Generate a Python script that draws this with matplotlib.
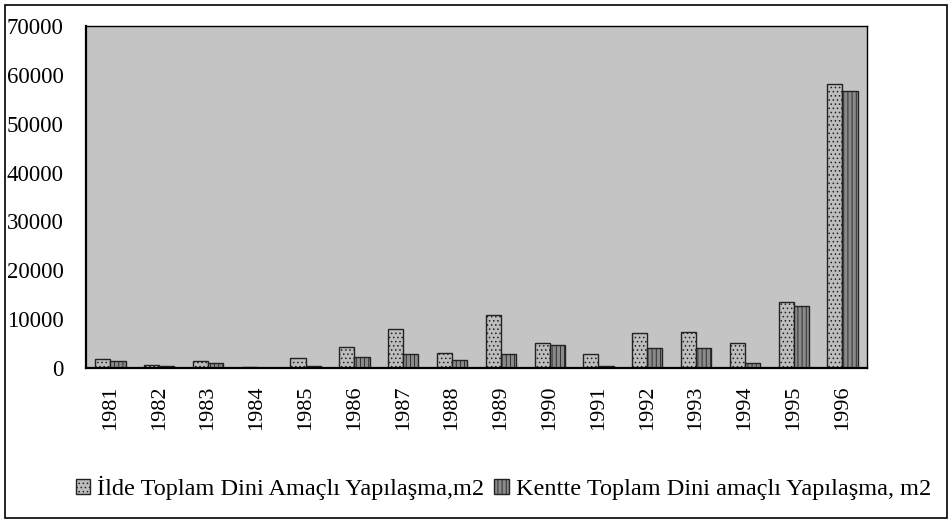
import matplotlib
matplotlib.use("Agg")
import matplotlib.pyplot as plt
import numpy as np
from matplotlib.patches import Rectangle

years = ["1981", "1982", "1983", "1984", "1985", "1986", "1987", "1988",
         "1989", "1990", "1991", "1992", "1993", "1994", "1995", "1996"]
ilde = [1800, 500, 1300, 100, 2000, 4300, 8000, 3100,
        10800, 5100, 2900, 7200, 7400, 5100, 13500, 58100]
kentte = [1400, 300, 900, 50, 400, 2200, 2900, 1700,
          2900, 4700, 300, 4100, 4100, 1000, 12700, 56700]
yticks = [0, 10000, 20000, 30000, 40000, 50000, 60000, 70000]
label_ilde = "İlde Toplam Dini Amaçlı Yapılaşma,m2"
label_kentte = "Kentte Toplam Dini amaçlı Yapılaşma, m2"

plt.rcParams['font.family'] = ['Liberation Serif', 'DejaVu Serif']
plt.rcParams['hatch.linewidth'] = 0.6

fig = plt.figure(figsize=(9.5, 5.21), dpi=100)
ax = fig.add_axes([0.0905, 0.294, 0.822, 0.656])

x = np.arange(len(years))
w = 0.31
ax.bar(x - w / 2, ilde, width=w, facecolor="#bdbdbd", edgecolor="#222222",
       hatch="....", linewidth=1.0, label=label_ilde)
ax.bar(x + w / 2, kentte, width=w, facecolor="#8a8a8a", edgecolor="#222222",
       hatch="||||", linewidth=1.0, label=label_kentte)

ax.set_facecolor("#c4c4c4")
ax.set_xlim(-0.5, len(years) - 0.5)
ax.set_ylim(0, 70000)
ax.set_yticks(yticks)
ax.set_yticklabels([str(t) for t in yticks], fontsize=16.5)
ax.set_xticks(x)
ax.set_xticklabels(years, rotation=90, fontsize=16)
ax.tick_params(axis='y', length=0, pad=16)
ax.tick_params(axis='x', length=0, pad=13)
for side in ["left", "bottom"]:
    ax.spines[side].set_linewidth(1.6)
for side in ["top", "right"]:
    ax.spines[side].set_linewidth(1.0)

leg = fig.legend(loc="center", bbox_to_anchor=(0.53, 0.063), ncol=2,
                 frameon=False, fontsize=17.5, handlelength=0.6,
                 handleheight=0.6, handletextpad=0.3, columnspacing=0.4)

fig.patches.append(Rectangle((0.005, 0.005), 0.992, 0.985, transform=fig.transFigure,
                             fill=False, edgecolor="black", linewidth=1.2))

fig.savefig("out.png", dpi=100)
